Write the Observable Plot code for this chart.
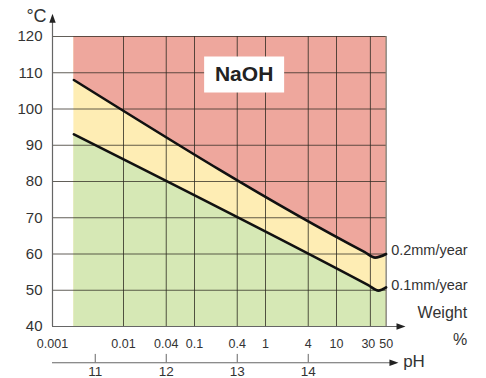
<!DOCTYPE html>
<html>
<head>
<meta charset="utf-8">
<script src="https://cdn.jsdelivr.net/npm/d3@7"></script>
<script src="https://cdn.jsdelivr.net/npm/@observablehq/plot@0.6"></script>
<style>
  html, body { margin: 0; padding: 0; background: #fff; }
</style>
</head>
<body>
<div id="chart"></div>
<script>
// ---- data ----
const tempTicks = [40, 50, 60, 70, 80, 90, 100, 110, 120];
const weightTicks = [0.001, 0.01, 0.04, 0.1, 0.4, 1, 4, 10, 30, 50];
const phTicks = [11, 12, 13, 14];
// 0.2 mm/year iso-corrosion line (weight %, °C)
const upperW = [0.002, 25, 35, 50];
const upperT = [108, 60.5, 59, 60];
// 0.1 mm/year iso-corrosion line
const lowerW = [0.002, 28, 39, 50];
const lowerT = [93, 51.4, 49.9, 50.8];
const regionW = [0.002, 50];
const lineLabels = ["0.2mm/year", "0.1mm/year"];
const title = "NaOH";

// pH -> weight % of NaOH (pH 14 ≈ 4 %)
const phToW = ph => 4 * Math.pow(10, ph - 14);

const upper = upperW.map((w, i) => ({w, t: upperT[i]}));
const lower = lowerW.map((w, i) => ({w, t: lowerT[i]}));

const RED = "#eea79d", YELLOW = "#feedb4", GREEN = "#d6e8b5";
const GRID = "#2e2a22", AXIS = "#666", TXT = "#333";

const upArrow = {draw(c) { c.moveTo(0, 0); c.lineTo(-3.2, 9); c.lineTo(3.2, 9); c.closePath(); }};
const rightArrow = {draw(c) { c.moveTo(0, 0); c.lineTo(-9, -3.2); c.lineTo(-9, 3.2); c.closePath(); }};
const boxSym = {draw(c) { c.rect(-40, -18, 80, 36); }};

const lastW = weightTicks[weightTicks.length - 1];

const chart = Plot.plot({
  width: 486, height: 378,
  marginLeft: 52, marginRight: 79, marginTop: 36, marginBottom: 52,
  x: {type: "log", domain: [0.001, 100], axis: null},
  y: {domain: [40, 120], axis: null},
  style: {fontFamily: "'Liberation Sans', Arial, sans-serif", background: "#fff", overflow: "visible", color: TXT},
  marks: [
    // regions
    Plot.rect([0], {x1: regionW[0], x2: regionW[1], y1: 40, y2: 120, fill: YELLOW}),
    Plot.areaY(upper, {x: "w", y1: "t", y2: 120, fill: RED, curve: "monotone-x"}),
    Plot.areaY(lower, {x: "w", y1: 40, y2: "t", fill: GREEN, curve: "monotone-x"}),
    // grid
    Plot.ruleY(tempTicks.filter(t => t > 40), {x1: 0.001, x2: regionW[1], stroke: GRID, strokeWidth: 1, strokeOpacity: 0.75}),
    Plot.ruleX(weightTicks.filter(w => w > 0.001), {y1: 40, y2: 120, stroke: GRID, strokeWidth: 1, strokeOpacity: 0.8}),
    // axes
    Plot.ruleX([0.001], {y1: 40, y2: 124, stroke: AXIS, strokeWidth: 1.2}),
    Plot.ruleY([40], {x1: 0.001, x2: 88, stroke: AXIS, strokeWidth: 1.2}),
    Plot.dot([0], {x: 0.001, y: 126.3, symbol: upArrow, fill: "#222", stroke: "none"}),
    Plot.dot([0], {x: 93.8, y: 40, symbol: rightArrow, fill: "#222", stroke: "none"}),
    // pH axis
    Plot.ruleY([30], {x1: 0.001, x2: 70, stroke: AXIS, strokeWidth: 1.2}),
    Plot.ruleX(phTicks, {x: phToW, y1: 30, y2: 32.3, stroke: AXIS, strokeWidth: 1}),
    Plot.dot([0], {x: 74.6, y: 30, symbol: rightArrow, fill: "#222", stroke: "none"}),
    // iso lines
    Plot.line(upper, {x: "w", y: "t", stroke: "#111", strokeWidth: 2.6, curve: "monotone-x"}),
    Plot.line(lower, {x: "w", y: "t", stroke: "#111", strokeWidth: 2.6, curve: "monotone-x"}),
    // tick labels
    Plot.text(tempTicks, {x: 0.001, y: d => d, dx: -10, textAnchor: "end", fontSize: 15, fill: TXT}),
    Plot.text(weightTicks.filter(d => d !== 30), {x: d => d, y: 40, dy: 17, text: d => String(d), fontSize: 12.5, fill: TXT}),
    Plot.text(weightTicks.filter(d => d === 30), {x: d => d, y: 40, dy: 17, dx: -2, text: d => String(d), fontSize: 12.5, fill: TXT}),
    Plot.text(phTicks, {x: phToW, y: 30, dy: 9, text: d => String(d), fontSize: 13.5, fill: TXT}),
    // line labels
    Plot.text([lineLabels[0]], {x: lastW, y: upperT[upperT.length - 1], dx: 5, dy: -4, textAnchor: "start", fontSize: 14.5, fill: TXT}),
    Plot.text([lineLabels[1]], {x: lastW, y: lowerT[lowerT.length - 1], dx: 5, dy: -2, textAnchor: "start", fontSize: 14.5, fill: TXT}),
    // axis titles
    Plot.text(["Weight"], {x: lastW, y: 40, dx: 81, dy: -14, textAnchor: "end", fontSize: 16, fill: TXT}),
    Plot.text(["%"], {x: lastW, y: 40, dx: 74, dy: 13, fontSize: 16, fill: TXT}),
    Plot.text(["pH"], {x: lastW, y: 30, dx: 17, dy: -1, textAnchor: "start", fontSize: 17, fill: TXT}),
    Plot.text(["°C"], {x: 0.001, y: 120, dx: -16, dy: -20, fontSize: 18, fill: TXT}),
    // title box
    Plot.dot([title], {x: 0.5, y: 109.5, symbol: boxSym, fill: "#fff", stroke: "none"}),
    Plot.text([title], {x: 0.5, y: 109.5, fontSize: 21, fontWeight: "bold", fill: "#222"})
  ]
});
document.getElementById("chart").appendChild(chart);
</script>
</body>
</html>
